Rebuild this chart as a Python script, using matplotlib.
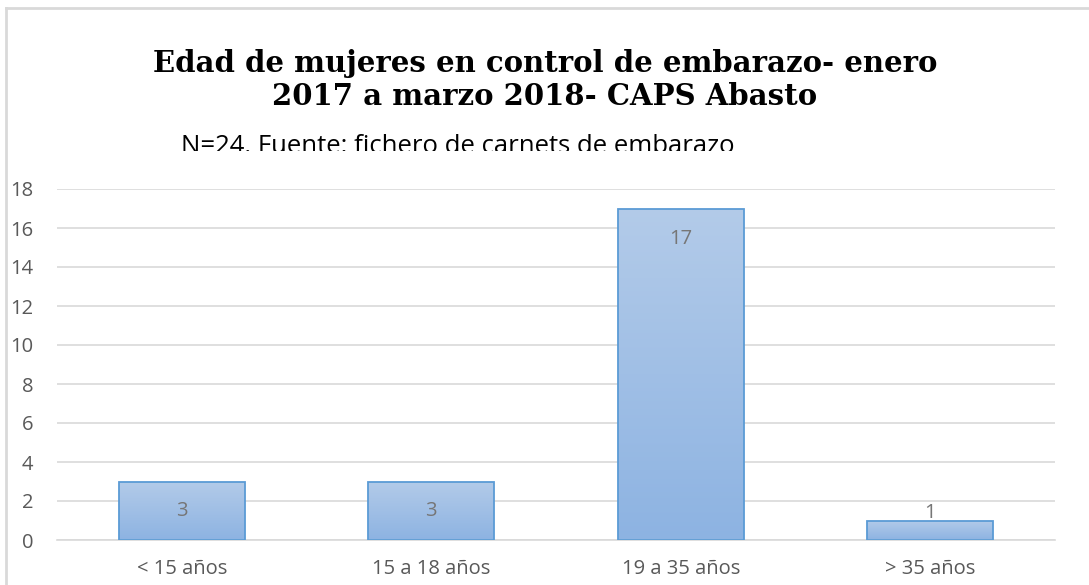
import matplotlib
matplotlib.use("Agg")
import matplotlib.pyplot as plt
import numpy as np
from matplotlib.lines import Line2D
from matplotlib.colors import LinearSegmentedColormap
from matplotlib.transforms import Bbox

categories = ["< 15 años", "15 a 18 años", "19 a 35 años", "> 35 años"]
values = [3, 3, 17, 1]
yticks = [0, 2, 4, 6, 8, 10, 12, 14, 16, 18]
title = "Edad de mujeres en control de embarazo- enero\n2017 a marzo 2018- CAPS Abasto"
subtitle = "N=24. Fuente: fichero de carnets de embarazo"

W, H = 1089, 585
fig = plt.figure(figsize=(W / 100, H / 100), dpi=100)
fig.patch.set_facecolor("white")

# frame of the chart object
fig.add_artist(Line2D([6 / W, 6 / W], [0, 1 - 8 / H], transform=fig.transFigure,
                      color="#d9d9d9", lw=2))
fig.add_artist(Line2D([6 / W, 1], [1 - 8 / H, 1 - 8 / H], transform=fig.transFigure,
                      color="#d9d9d9", lw=2))

ax = fig.add_axes([57 / W, (H - 540) / H, (1055 - 57) / W, (540 - 189) / H])
x = np.arange(len(categories))
bars = ax.bar(x, values, width=0.505, facecolor="none", edgecolor="#5b9bd5",
              linewidth=1.3, zorder=3)

cmap = LinearSegmentedColormap.from_list("g", ["#8db3e2", "#b3cbe9"])
grad = np.linspace(0, 1, 256).reshape(-1, 1)
for b in bars:
    x0, y0, w, h = b.get_x(), b.get_y(), b.get_width(), b.get_height()
    im = ax.imshow(grad, cmap=cmap, origin="lower", aspect="auto",
                   extent=[x0, x0 + w, y0, y0 + h], zorder=2)
    im.set_clip_path(b)

for b, v in zip(bars, values):
    cx = b.get_x() + b.get_width() / 2
    off = -30 if v >= 3 else 8
    ax.annotate(str(v), (cx, v), xytext=(0, off), textcoords="offset pixels",
                ha="center", va="center", fontsize=14.5, color="#767676",
                family="Open Sans", zorder=4)

ax.set_xlim(-0.5, len(categories) - 0.5)
ax.set_ylim(0, 18)
ax.set_yticks(yticks)
ax.set_xticks(x)
ax.set_xticklabels(categories)
ax.grid(axis="y", color="#d9d9d9", linewidth=1.2, zorder=0)
ax.set_axisbelow(True)
for s in ["top", "right", "left"]:
    ax.spines[s].set_visible(False)
ax.spines["bottom"].set_color("#d9d9d9")
ax.spines["bottom"].set_linewidth(1.2)
ax.tick_params(axis="both", length=0, labelsize=14.5, labelcolor="#595959")
ax.tick_params(axis="y", pad=17)
ax.tick_params(axis="x", pad=14)
for t in ax.get_xticklabels() + ax.get_yticklabels():
    t.set_family("Open Sans")
ax.set_facecolor("none")

fig.text(545 / W, 1 - 80 / H, title, ha="center", va="center", fontsize=21,
         fontweight="bold", family="DejaVu Serif", linespacing=1.15)
st = fig.text(458 / W, 1 - 153 / H, subtitle, ha="center", va="baseline", fontsize=18.5,
              family="Open Sans", color="#000000")
st.set_clip_box(Bbox.from_extents(0, H - 151, W, H))
st.set_clip_on(True)

fig.savefig("out.png", dpi=100)
